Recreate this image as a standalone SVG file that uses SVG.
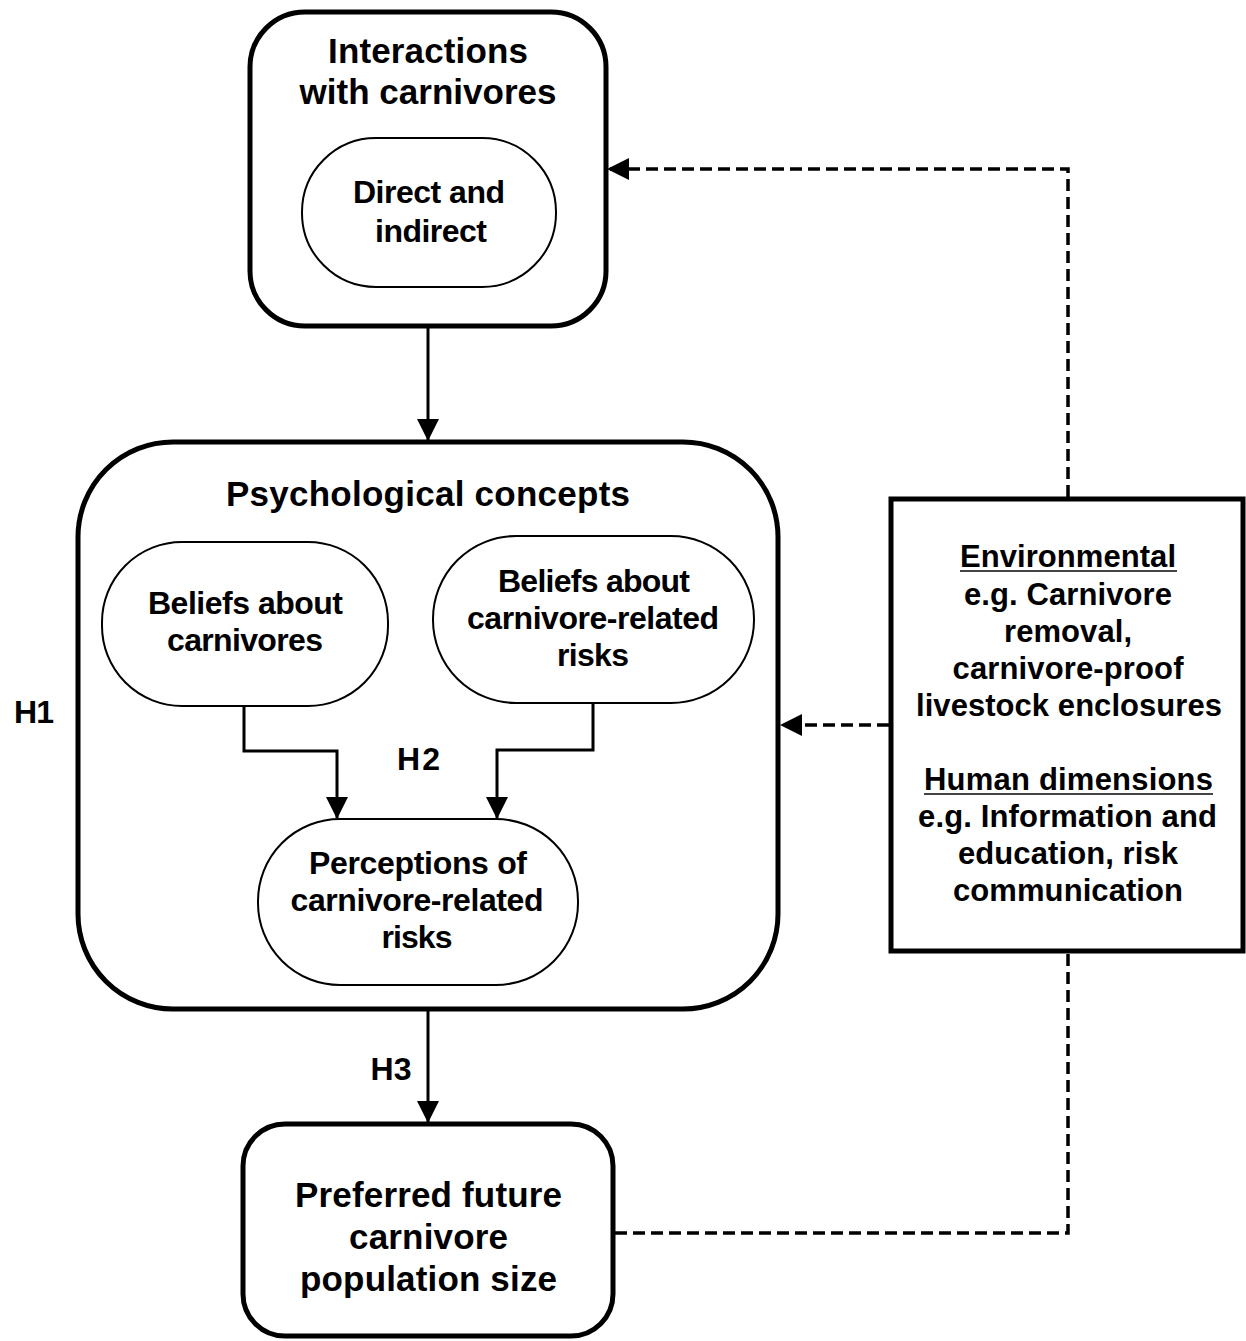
<svg xmlns="http://www.w3.org/2000/svg" width="1246" height="1341" viewBox="0 0 1246 1341">
<style>
.t{font-family:"Liberation Sans",Arial,sans-serif;font-weight:bold;font-size:32px;fill:#000;text-anchor:middle}
.big{font-size:35px}
.r{font-size:31px}
.box{fill:#fff;stroke:#000}
.thick{stroke-width:5}
.thin{stroke-width:2}
.solid{fill:none;stroke:#000;stroke-width:3}
.dash{fill:none;stroke:#000;stroke-width:3.5;stroke-dasharray:12 6}
.ul{stroke:#444;stroke-width:2}
</style>
<defs>
<marker id="ah" markerUnits="userSpaceOnUse" viewBox="0 0 22 22" markerWidth="22" markerHeight="22" refX="21" refY="11" orient="auto">
<path d="M0,0 L22,11 L0,22 z" fill="#000"/>
</marker>
</defs>
<rect width="1246" height="1341" fill="#fff"/>
<g id="interactions">
<rect class="box thick" x="250" y="12" width="356" height="314" rx="55"/>
<text class="t big" x="428" y="63" textLength="200">Interactions</text>
<text class="t big" x="428" y="104" textLength="257">with carnivores</text>
</g>
<g id="direct-indirect">
<rect class="box thin" x="302" y="138" width="254" height="149" rx="74"/>
<text class="t" x="429" y="203" textLength="152">Direct and</text>
<text class="t" x="431" y="242" textLength="112">indirect</text>
</g>
<g id="psychological">
<rect class="box thick" x="78" y="442" width="700" height="567" rx="95"/>
<text class="t big" x="428" y="506" textLength="404">Psychological concepts</text>
</g>
<g id="beliefs-carnivores">
<rect class="box thin" x="102" y="542" width="286" height="164" rx="80"/>
<text class="t" x="245.5" y="614" textLength="195">Beliefs about</text>
<text class="t" x="245" y="651" textLength="156">carnivores</text>
</g>
<g id="beliefs-risks">
<rect class="box thin" x="433" y="536" width="321" height="167" rx="83"/>
<text class="t" x="594" y="592" textLength="192">Beliefs about</text>
<text class="t" x="593" y="629" textLength="252">carnivore-related</text>
<text class="t" x="593" y="666" textLength="72">risks</text>
</g>
<g id="perceptions">
<rect class="box thin" x="258" y="819" width="320" height="166" rx="82"/>
<text class="t" x="418" y="874" textLength="218">Perceptions of</text>
<text class="t" x="417" y="911" textLength="253">carnivore-related</text>
<text class="t" x="417" y="948" textLength="71">risks</text>
</g>
<g id="preferred">
<rect class="box thick" x="243" y="1124" width="370" height="212" rx="42"/>
<text class="t big" x="428.5" y="1207" textLength="267">Preferred future</text>
<text class="t big" x="428.5" y="1249" textLength="159">carnivore</text>
<text class="t big" x="428.5" y="1291" textLength="257">population size</text>
</g>
<g id="interventions">
<rect class="box thick" x="891" y="499" width="352" height="452"/>
<text class="t r" x="1068" y="567" textLength="216">Environmental</text>
<line class="ul" x1="960" y1="571" x2="1177" y2="571"/>
<text class="t r" x="1068" y="605" textLength="208">e.g. Carnivore</text>
<text class="t r" x="1068" y="642" textLength="128">removal,</text>
<text class="t r" x="1068" y="679" textLength="231">carnivore-proof</text>
<text class="t r" x="1069" y="716" textLength="306">livestock enclosures</text>
<text class="t r" x="1068.5" y="790" textLength="289">Human dimensions</text>
<line class="ul" x1="924" y1="794" x2="1213" y2="794"/>
<text class="t r" x="1067.5" y="827" textLength="299">e.g. Information and</text>
<text class="t r" x="1068" y="864" textLength="220">education, risk</text>
<text class="t r" x="1068" y="901" textLength="230">communication</text>
</g>
<g id="labels">
<text class="t" x="34" y="723" textLength="40">H1</text>
<text class="t" x="418.5" y="770" textLength="43">H2</text>
<text class="t" x="391" y="1080" textLength="41">H3</text>
</g>
<g id="connectors">
<path class="solid" d="M428,328 V440" marker-end="url(#ah)"/>
<path class="solid" d="M428,1011 V1122" marker-end="url(#ah)"/>
<path class="solid" d="M244,706 V751 H337 V818" marker-end="url(#ah)"/>
<path class="solid" d="M593,703 V750 H497 V818" marker-end="url(#ah)"/>
<path class="dash" d="M615,1233 H1068 V953"/>
<path class="dash" d="M1068,497 V169 H608" marker-end="url(#ah)"/>
<path class="dash" d="M889,725 H781" marker-end="url(#ah)"/>
</g>
</svg>
